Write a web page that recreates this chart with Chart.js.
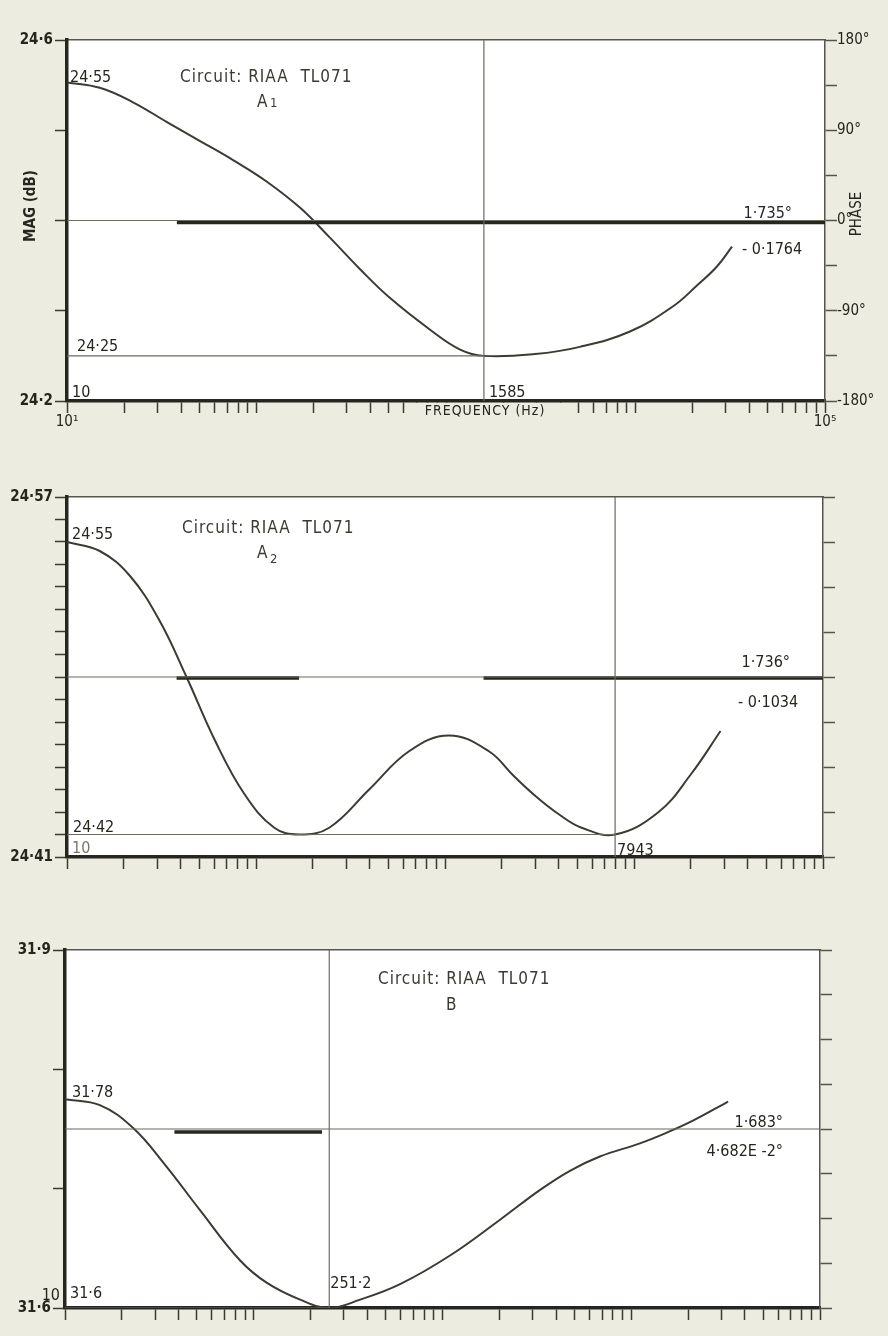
<!DOCTYPE html>
<html>
<head>
<meta charset="utf-8">
<script src="https://cdn.jsdelivr.net/npm/chart.js@4.4.0/dist/chart.umd.min.js"></script>
<style>
  html, body { margin: 0; padding: 0; }
  body { width: 888px; height: 1336px; background: #ecede0; position: relative; overflow: hidden; }
  canvas { position: absolute; left: 0; }
</style>
</head>
<body>
<canvas id="chartA1" width="888" height="440" style="top:0px"></canvas>
<canvas id="chartA2" width="888" height="445" style="top:440px"></canvas>
<canvas id="chartB" width="888" height="451" style="top:885px"></canvas>
<script>
// frequency ticks (log axis, 10 Hz .. 100 kHz)
var decadeStarts = [10, 100, 1000, 10000];
var decadeSteps = [1, 2, 3, 4, 5, 6, 7, 8, 9];
var freqTickLabels = { 10: '10¹', 100000: '10⁵' };

// phase axis ticks (right)
var phaseTicks = [-180, -135, -90, -45, 0, 45, 90, 135, 180];
var phaseLabelsA1 = ['-180°', '', '-90°', '', '0°', '', '90°', '', '180°'];

// circuit A1
var freqA1 = [10, 14.9, 22.3, 33.7, 50.4, 75.2, 113.5, 170, 244, 352, 507, 824, 1187, 1585, 2950, 5090, 9350, 15800, 21100, 26900, 32300];
var magA1  = [24.553, 24.547, 24.531, 24.509, 24.488, 24.467, 24.443, 24.414, 24.381, 24.346, 24.314, 24.279, 24.257, 24.25, 24.252, 24.26, 24.277, 24.305, 24.328, 24.349, 24.371];
var phaseFreqA1 = [38, 1000, 100000];
var phaseA1 = [-2, -2, -2];
var magTicksA1 = [24.2, 24.3, 24.4, 24.5, 24.6];
var magLabelsA1 = ['24·2', '', '', '', '24·6'];

// circuit A2
var freqA2 = [10, 14.9, 21.5, 30.9, 42.9, 60.5, 86.8, 125, 169, 244, 397, 645, 1050, 1706, 2312, 3020, 4000, 5286, 7943, 13500, 20100, 28700];
var magA2  = [24.55, 24.546, 24.535, 24.515, 24.49, 24.462, 24.438, 24.423, 24.42, 24.423, 24.44, 24.457, 24.464, 24.457, 24.446, 24.437, 24.429, 24.423, 24.42, 24.43, 24.447, 24.466];
var phaseFreqA2 = [38, 169, 500, 1600, 100000];
var phaseA2 = [-1, -1, null, -1, -1];
var magTicksA2 = [24.41, 24.42, 24.43, 24.44, 24.45, 24.46, 24.47, 24.48, 24.49, 24.5, 24.51, 24.52, 24.53, 24.54, 24.55, 24.56, 24.57];
var magLabelsA2 = ['24·41', '', '', '', '', '', '', '', '', '', '', '', '', '', '', '', '24·57'];

// circuit B
var freqB = [10, 15.3, 22.9, 33.9, 51.9, 84.5, 117.5, 176, 251.2, 366, 596, 1096, 2018, 3289, 4733, 6821, 11120, 15450, 21220, 32590];
var magB  = [31.775, 31.77, 31.751, 31.72, 31.682, 31.64, 31.621, 31.607, 31.6, 31.607, 31.62, 31.644, 31.674, 31.699, 31.715, 31.727, 31.738, 31.747, 31.757, 31.773];
var phaseFreqB = [38, 230];
var phaseB = [-3, -3];
var magTicksB = [31.6, 31.7, 31.8, 31.9];
var magLabelsB = ['31·6', '', '', '31·9'];

var freqTicks = [];
decadeStarts.forEach(function(d) {
    decadeSteps.forEach(function(s) { freqTicks.push(d * s); });
});
freqTicks.push(100000);

var ink = '#26261f';
var curveColor = '#3b3b33';
var thinColor = '#6b6b61';
var paperColor = '#ecede0';
var fontFamily = '"DejaVu Sans Condensed", "DejaVu Sans", sans-serif';

function drawText(ctx, str, x, y, opts) {
    opts = opts || {};
    ctx.save();
    ctx.font = opts.font || ('15px ' + fontFamily);
    ctx.fillStyle = opts.color || ink;
    ctx.textAlign = opts.align || 'left';
    ctx.textBaseline = opts.baseline || 'alphabetic';
    if (opts.spacing) ctx.letterSpacing = opts.spacing;
    if (opts.rotate) {
        ctx.translate(x, y);
        ctx.rotate(opts.rotate);
        ctx.fillText(str, 0, 0);
    } else {
        ctx.fillText(str, x, y);
    }
    ctx.restore();
}

var paperPlugin = {
    id: 'paper',
    beforeDraw: function(chart) {
        var a = chart.chartArea;
        var ctx = chart.ctx;
        ctx.save();
        ctx.fillStyle = '#ffffff';
        ctx.fillRect(a.left, a.top, a.right - a.left, a.bottom - a.top);
        ctx.restore();
    }
};

function buildChart(id, p) {
    var yMin = p.magTicks[0];
    var yMax = p.magTicks[p.magTicks.length - 1];
    var magPts = p.freq.map(function(f, i) { return { x: f, y: p.mag[i] }; });
    var phasePts = p.phaseFreq.map(function(f, i) { return { x: f, y: p.phase[i] }; });

    var datasets = [
        { data: [{ x: 10, y: 0 }, { x: 100000, y: 0 }], yAxisID: 'y1', borderColor: thinColor, borderWidth: 1.2 },
        { data: [{ x: 10, y: p.cursorMag }, { x: p.cursorFreq, y: p.cursorMag }], yAxisID: 'y', borderColor: thinColor, borderWidth: 1.2 },
        { data: [{ x: p.cursorFreq, y: yMin }, { x: p.cursorFreq, y: yMax }], yAxisID: 'y', borderColor: thinColor, borderWidth: 1.2 },
        { data: phasePts, yAxisID: 'y1', borderColor: ink, borderWidth: 3.5, spanGaps: false },
        { data: magPts, yAxisID: 'y', borderColor: curveColor, borderWidth: 2, tension: 0.4 }
    ];

    var canvas = document.getElementById(id);
    return new Chart(canvas.getContext('2d'), {
        type: 'line',
        data: { datasets: datasets },
        options: {
            responsive: false,
            animation: false,
            devicePixelRatio: 1,
            layout: { padding: { top: p.padTop, left: 0, right: 0, bottom: 0 } },
            elements: { point: { radius: 0 }, line: { fill: false } },
            plugins: { legend: { display: false }, tooltip: { enabled: false } },
            scales: {
                x: {
                    type: 'logarithmic', min: 10, max: 100000, position: 'bottom',
                    afterBuildTicks: function(s) { s.ticks = freqTicks.map(function(v) { return { value: v }; }); },
                    afterFit: function(s) { s.height = p.xHeight; },
                    grid: { drawOnChartArea: false, drawTicks: true, tickLength: 12, tickWidth: 1.5, tickColor: '#3a3a32' },
                    border: { display: true, width: 3.5, color: ink },
                    ticks: {
                        autoSkip: false, maxRotation: 0, padding: 0, color: ink,
                        font: { family: fontFamily, size: 15 },
                        callback: function(v) { return p.xLabels ? (freqTickLabels[v] || '') : ''; }
                    }
                },
                xTop: {
                    type: 'logarithmic', min: 10, max: 100000, position: 'top',
                    afterFit: function(s) { s.height = 0; },
                    grid: { drawOnChartArea: false, drawTicks: false },
                    border: { display: true, width: 1.5, color: '#55554c' },
                    ticks: { display: false }
                },
                y: {
                    type: 'linear', min: yMin, max: yMax, position: 'left',
                    afterBuildTicks: function(s) { s.ticks = p.magTicks.map(function(v) { return { value: v }; }); },
                    afterFit: function(s) { s.width = p.leftWidth; },
                    grid: { drawOnChartArea: false, drawTicks: true, tickLength: 12, tickWidth: 1.5, tickColor: '#3a3a32' },
                    border: { display: true, width: 3.5, color: ink },
                    ticks: {
                        padding: 2, color: ink,
                        font: { family: fontFamily, size: 15, weight: 'bold' },
                        callback: function(v, i) { return p.magLabels[i]; }
                    }
                },
                y1: {
                    type: 'linear', min: -180, max: 180, position: 'right',
                    afterBuildTicks: function(s) { s.ticks = phaseTicks.map(function(v) { return { value: v }; }); },
                    afterFit: function(s) { s.width = p.rightWidth; },
                    grid: { drawOnChartArea: false, drawTicks: true, tickLength: 12, tickWidth: 1.5, tickColor: '#55554c' },
                    border: { display: true, width: 1.5, color: '#55554c' },
                    ticks: {
                        padding: 0, color: ink,
                        font: { family: fontFamily, size: 15 },
                        callback: function(v, i) { return p.phaseLabels ? p.phaseLabels[i] : ''; }
                    }
                }
            }
        },
        plugins: [paperPlugin, { id: id + 'Notes', afterDraw: p.notes }]
    });
}

var noteFont = '16px ' + fontFamily;
var titleFont = '17px ' + fontFamily;
var smallFont = '13px ' + fontFamily;

buildChart('chartA1', {
    freq: freqA1, mag: magA1, phaseFreq: phaseFreqA1, phase: phaseA1,
    magTicks: magTicksA1, magLabels: magLabelsA1, phaseLabels: phaseLabelsA1,
    cursorFreq: 1585, cursorMag: 24.25,
    padTop: 40, xHeight: 39, leftWidth: 67, rightWidth: 63, xLabels: true,
    notes: function(c) {
        var a = c.chartArea, x = c.scales.x, y = c.scales.y, ph = c.scales.y1, ctx = c.ctx;
        drawText(ctx, '24·55', a.left + 3, y.getPixelForValue(24.55) - 3, { font: noteFont });
        drawText(ctx, 'Circuit: RIAA  TL071', a.left + 113, a.top + 42, { font: titleFont, spacing: '1px', color: '#3a3a33' });
        drawText(ctx, 'A', a.left + 190, a.top + 67, { font: titleFont, color: '#3a3a33' });
        drawText(ctx, '1', a.left + 203, a.top + 67, { font: smallFont, color: '#3a3a33' });
        drawText(ctx, '1·735°', a.right - 33, ph.getPixelForValue(0) - 3, { font: noteFont, align: 'right' });
        drawText(ctx, '- 0·1764', a.right - 83, ph.getPixelForValue(0) + 33, { font: noteFont });
        drawText(ctx, '24·25', a.left + 10, y.getPixelForValue(24.25) - 5, { font: noteFont });
        drawText(ctx, '10', a.left + 5, a.bottom - 4, { font: noteFont });
        drawText(ctx, '1585', x.getPixelForValue(1585) + 5, a.bottom - 4, { font: noteFont });
        drawText(ctx, 'MAG (dB)', 31, 206, { font: 'bold 15px ' + fontFamily, align: 'center', baseline: 'middle', rotate: -Math.PI / 2 });
        drawText(ctx, 'PHASE', 857, 214, { font: '15px ' + fontFamily, align: 'center', baseline: 'middle', rotate: -Math.PI / 2 });
        // axis title sits on a strip of paper that covers the ticks behind it
        ctx.save();
        ctx.fillStyle = paperColor;
        ctx.fillRect(405, a.bottom + 2, 160, 15);
        ctx.restore();
        drawText(ctx, 'FREQUENCY (Hz)', 485, 415, { font: '14px ' + fontFamily, align: 'center', spacing: '1px' });
    }
});

buildChart('chartA2', {
    freq: freqA2, mag: magA2, phaseFreq: phaseFreqA2, phase: phaseA2,
    magTicks: magTicksA2, magLabels: magLabelsA2, phaseLabels: null,
    cursorFreq: 7943, cursorMag: 24.42,
    padTop: 57, xHeight: 28, leftWidth: 67, rightWidth: 65, xLabels: false,
    notes: function(c) {
        var a = c.chartArea, x = c.scales.x, y = c.scales.y, ph = c.scales.y1, ctx = c.ctx;
        drawText(ctx, '24·55', a.left + 5, y.getPixelForValue(24.55) - 3, { font: noteFont });
        drawText(ctx, 'Circuit: RIAA  TL071', a.left + 115, a.top + 36, { font: titleFont, spacing: '1px', color: '#3a3a33' });
        drawText(ctx, 'A', a.left + 190, a.top + 61, { font: titleFont, color: '#3a3a33' });
        drawText(ctx, '2', a.left + 203, a.top + 66, { font: smallFont, color: '#3a3a33' });
        drawText(ctx, '1·736°', a.right - 33, ph.getPixelForValue(0) - 10, { font: noteFont, align: 'right' });
        drawText(ctx, '- 0·1034', a.right - 85, ph.getPixelForValue(0) + 30, { font: noteFont });
        drawText(ctx, '24·42', a.left + 6, y.getPixelForValue(24.42) - 3, { font: noteFont });
        drawText(ctx, '10', a.left + 5, a.bottom - 4, { font: noteFont, color: '#77776d' });
        drawText(ctx, '7943', x.getPixelForValue(7943) + 2, a.bottom - 2, { font: noteFont });
    }
});

buildChart('chartB', {
    freq: freqB, mag: magB, phaseFreq: phaseFreqB, phase: phaseB,
    magTicks: magTicksB, magLabels: magLabelsB, phaseLabels: null,
    cursorFreq: 251.2, cursorMag: 31.6,
    padTop: 65, xHeight: 28, leftWidth: 65, rightWidth: 68, xLabels: false,
    notes: function(c) {
        var a = c.chartArea, x = c.scales.x, y = c.scales.y, ph = c.scales.y1, ctx = c.ctx;
        drawText(ctx, '31·78', a.left + 7, y.getPixelForValue(31.78) + 4, { font: noteFont });
        drawText(ctx, 'Circuit: RIAA  TL071', a.left + 313, a.top + 34, { font: titleFont, spacing: '1px', color: '#3a3a33' });
        drawText(ctx, 'B', a.left + 381, a.top + 60, { font: titleFont, color: '#3a3a33' });
        drawText(ctx, '1·683°', a.right - 37, ph.getPixelForValue(0) - 2, { font: noteFont, align: 'right' });
        drawText(ctx, '4·682E -2°', a.right - 37, ph.getPixelForValue(0) + 27, { font: noteFont, align: 'right' });
        drawText(ctx, '10', a.left - 5, a.bottom - 8, { font: noteFont, align: 'right' });
        drawText(ctx, '31·6', a.left + 5, a.bottom - 10, { font: noteFont });
        drawText(ctx, '251·2', x.getPixelForValue(251.2) + 1, a.bottom - 20, { font: noteFont });
    }
});
</script>
</body>
</html>
